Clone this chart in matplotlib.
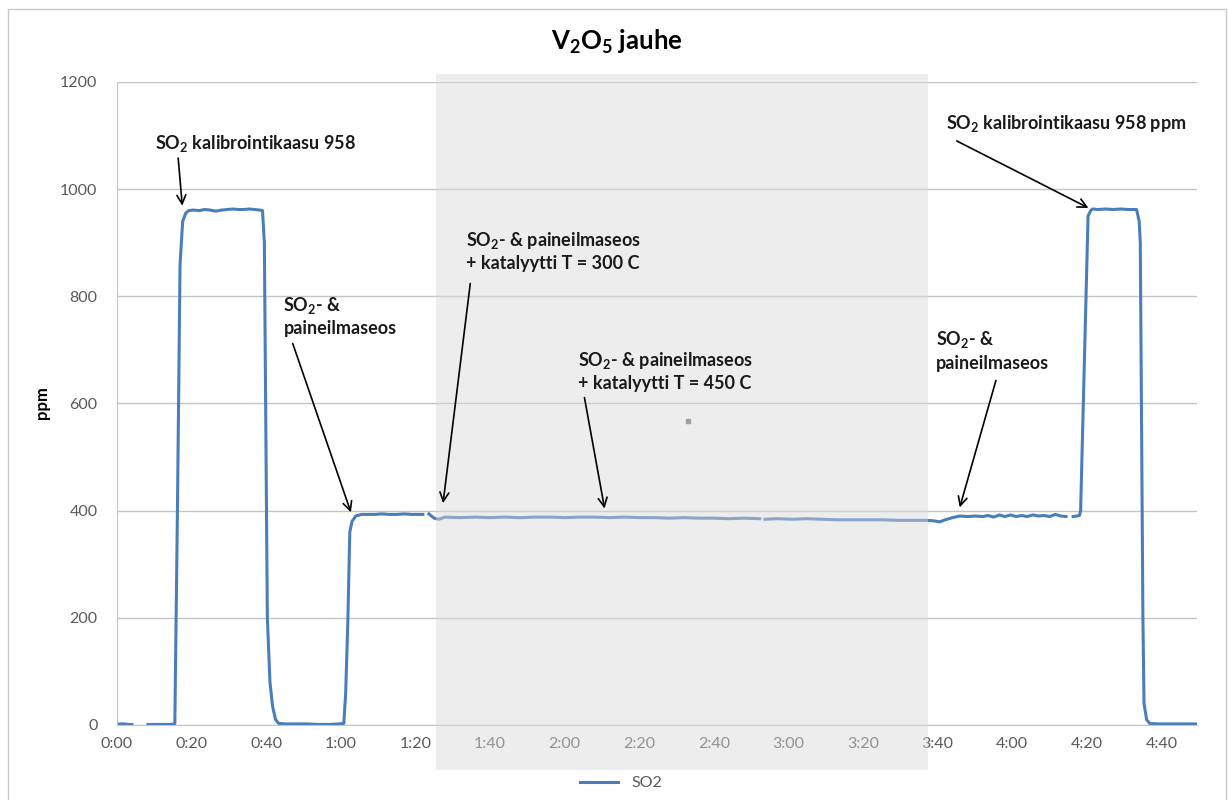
import numpy as np
import matplotlib

matplotlib.use("Agg")
import matplotlib.pyplot as plt
from matplotlib.patches import Rectangle

plt.rcParams["font.family"] = ["Lato", "DejaVu Sans"]
plt.rcParams["mathtext.fontset"] = "custom"
plt.rcParams["mathtext.default"] = "regular"

# SO2 reading, time in minutes from start (nan = gap in logging)
nan = np.nan
time_min = [
    0, 1, 2, 3, 4.0, 6.0,
    8.3, 10, 12, 14, 15.5, 16.2, 16.9, 17.6, 18.4, 19.2, 20.5, 22, 23.5, 25,
    26.5, 28, 29.5, 31, 32.5, 34, 35.5, 37, 38.3, 39.0, 39.5, 40.3, 41.0, 41.7,
    42.5, 43.3, 45, 48, 51, 54, 57, 59.5, 60.8, 61.3, 61.9, 62.4, 63.0, 64.0,
    65.5, 67, 69, 71, 73, 75, 77, 79, 82.0, 82.8,
    83.6, 85.0, 86.3, 88, 92, 96, 100, 104, 108, 112, 116, 120, 124, 128, 132,
    136, 140, 144, 148, 152, 156, 160, 164, 168, 172.3, 173.0,
    173.7, 177, 181, 185, 189, 193, 197, 201, 205, 209, 213, 217, 219, 220.5,
    222, 224, 225.9, 228, 230, 232, 233.5, 235, 236.5, 238, 239.5, 241, 242.5,
    244, 245.5, 247, 248.5, 250, 251.5, 253, 254.4, 255.3,
    256.3, 257.2, 258.0, 258.3, 260.3, 261.0, 261.5, 263, 265, 267, 269, 271,
    273.3, 274.0, 274.3, 274.6, 275.0, 275.3, 276.0, 276.8, 279, 282, 285,
    289.5,
]
so2_ppm = [
    2, 2, 2, 1, 1, nan,
    1, 1, 1, 1, 2, 400, 860, 940, 955, 960, 961, 960, 962, 961,
    959, 961, 962, 963, 962, 962, 963, 962, 961, 960, 900, 200, 80, 35,
    10, 3, 2, 2, 2, 1, 1, 2, 3, 60, 200, 360, 380, 390,
    393, 393, 393, 394, 393, 393, 394, 393, 393, nan,
    394, 386, 384, 388, 387, 388, 387, 388, 387, 388, 388, 387, 388, 388, 387,
    388, 387, 387, 386, 387, 386, 386, 385, 386, 385, nan,
    384, 385, 384, 385, 384, 383, 383, 383, 383, 382, 382, 382, 381, 379,
    383, 387, 390, 389, 390, 389, 391, 388, 392, 389, 392, 389, 391,
    389, 392, 390, 391, 389, 393, 390, 389, nan,
    389, 390, 391, 400, 950, 960, 963, 962, 963, 962, 963, 962,
    962, 940, 900, 600, 200, 40, 10, 3, 2, 2, 2,
    2,
]

y_ticks = [0, 200, 400, 600, 800, 1000, 1200]
x_ticks = [0, 20, 40, 60, 80, 100, 120, 140, 160, 180, 200, 220, 240, 260, 280]
x_labels = ["0:00", "0:20", "0:40", "1:00", "1:20", "1:40", "2:00", "2:20",
            "2:40", "3:00", "3:20", "3:40", "4:00", "4:20", "4:40"]

# catalyst period (shaded)
shade_start, shade_end = 85.5, 217.3

notes = [
    # text, text pos (min, ppm), arrow start, arrow tip
    ("SO$_2$ kalibrointikaasu 958", (10.2, 1086), (16.4, 1058), (17.5, 969)),
    ("SO$_2$- &\npaineilmaseos", (44.6, 764), (47.1, 712), (62.7, 397)),
    ("SO$_2$- & paineilmaseos\n+ katalyytti T = 300 C", (93.6, 884), (94.7, 824), (87.4, 414)),
    ("SO$_2$- & paineilmaseos\n+ katalyytti T = 450 C", (123.5, 660), (125.3, 611), (130.7, 404)),
    ("SO$_2$- &\npaineilmaseos", (219.5, 699), (235.6, 643), (225.9, 406)),
    ("SO$_2$ kalibrointikaasu 958 ppm", (222.2, 1122), (225.1, 1090), (260.4, 965)),
]

fig = plt.figure(figsize=(12.28, 8), dpi=100)
ax = fig.add_axes([117 / 1228, 75 / 800, (1197 - 117) / 1228, (725 - 82) / 800])

line, = ax.plot(time_min, so2_ppm, color="#4a7ebb", lw=2.2, zorder=2)

ax.set_xlim(0, 289.5)
ax.set_ylim(0, 1200)
ax.set_yticks(y_ticks)
ax.set_xticks(x_ticks)
ax.set_xticklabels(x_labels)
ax.tick_params(length=0, labelsize=11.5, labelcolor="#595959")
ax.tick_params(axis="y", pad=14)
ax.tick_params(axis="x", pad=9)
ax.grid(axis="y", color="#c4c4c4", lw=1)
for s in ["top", "right"]:
    ax.spines[s].set_visible(False)
for s in ["left", "bottom"]:
    ax.spines[s].set_color("#c4c4c4")

# shaded overlay, reaches over the tick labels like in the original
ax.add_patch(Rectangle((shade_start, -84), shade_end - shade_start, 1299,
                       facecolor="#d8d8d8", alpha=0.45, lw=0, clip_on=False, zorder=3))
ax.plot([153], [567], marker="s", ms=3, color="#a0a0a0", zorder=4)

for txt, tpos, start, tip in notes:
    ax.text(tpos[0], tpos[1], txt, ha="left", va="center", fontsize=13,
            fontweight="bold", color="#1a1a1a", linespacing=1.3, zorder=6)
    ax.annotate("", xy=tip, xytext=start,
                arrowprops=dict(arrowstyle="->", color="black", lw=1.2,
                                mutation_scale=16, shrinkA=0, shrinkB=0),
                zorder=6)

fig.text(617 / 1228, 1 - 42 / 800, "V$_2$O$_5$ jauhe", ha="center", va="center",
         fontsize=18.5, fontweight="bold")
fig.text(42 / 1228, 1 - 403 / 800, "ppm", rotation=90, ha="center", va="center",
         fontsize=12, fontweight="bold")

fig.legend([line], ["SO2"], loc="center", bbox_to_anchor=(621 / 1228, 1 - 783 / 800),
           frameon=False, fontsize=11.5, handlelength=2.4, labelcolor="#595959")

fig.add_artist(Rectangle((8 / 1228, -0.01), (1226 - 8) / 1228, 1 - 9 / 800 + 0.01,
                         transform=fig.transFigure, fill=False,
                         edgecolor="#c8c8c8", lw=1))

fig.savefig("out.png", dpi=100)
plt.close(fig)
